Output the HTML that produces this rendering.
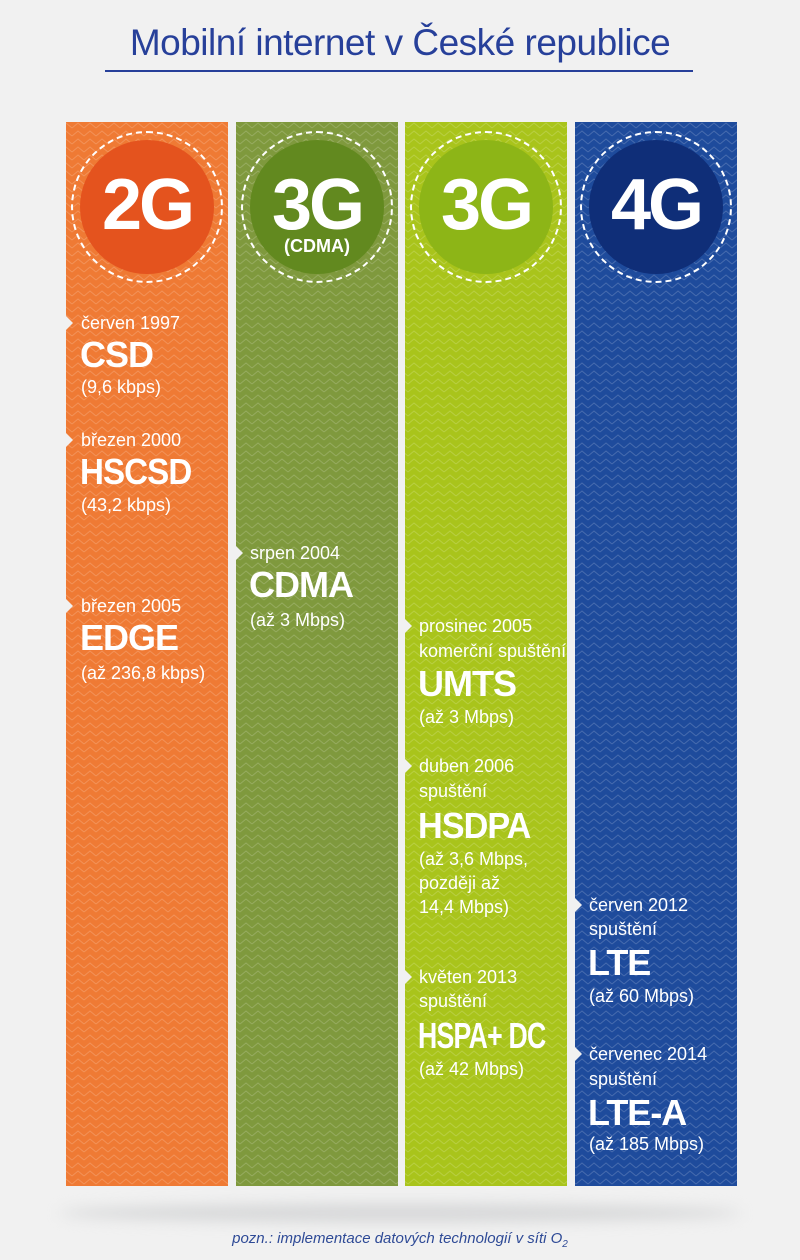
<!DOCTYPE html>
<html><head><meta charset="utf-8"><style>
body{margin:0;width:800px;height:1260px;background:#f1f1f1;position:relative;overflow:hidden;font-family:"Liberation Sans",sans-serif}
.t{position:absolute;left:0;width:800px;text-align:center;top:22px;font-family:"Liberation Sans",sans-serif;font-size:37px;color:#27409a;letter-spacing:-0.5px}
.ul{position:absolute;left:105px;width:588px;top:70px;height:2px;background:#27409a}
.col{position:absolute;top:122px;height:1064px;width:162px}
.circ{position:absolute;width:134px;height:134px;border-radius:50%;left:14px;top:18px}
.ring{position:absolute;border-radius:50%;left:5px;top:9px;border:2px dashed #fff;box-sizing:border-box;width:152px;height:152px}
.g{position:absolute;left:0;width:162px;text-align:center;top:48px;font-family:"Liberation Sans",sans-serif;font-weight:bold;font-size:72px;color:#fff;line-height:70px;letter-spacing:-3px}
.s{position:absolute;color:#fff;font-size:18px;line-height:22px;white-space:nowrap}
.b{position:absolute;color:#fff;font-size:36px;font-weight:bold;line-height:38px;white-space:nowrap;letter-spacing:-1px}
.n{position:absolute;width:0;height:0;border-top:7px solid transparent;border-bottom:7px solid transparent;border-left:7px solid #f1f1f1}
</style></head><body>
<svg width="0" height="0" style="position:absolute"><defs><pattern id="zz" width="12" height="8" patternUnits="userSpaceOnUse"><path d="M0 6 L6 1 L12 6" fill="none" stroke="#fff" stroke-opacity="0.18" stroke-width="1"/></pattern></defs></svg>
<div class="t">Mobilní internet v České republice</div>
<div class="ul"></div>

<div class="col" style="left:66px;background:#ef7a34"></div>
<div class="col" style="left:236px;background:#7f993d"></div>
<div class="col" style="left:405px;background:#a9c41b"></div>
<div class="col" style="left:575px;background:#1e4b9c"></div>
<svg style="position:absolute;left:0;top:122px" width="800" height="1064"><rect x="66" width="162" height="1064" fill="url(#zz)"/><rect x="236" width="162" height="1064" fill="url(#zz)"/><rect x="405" width="162" height="1064" fill="url(#zz)"/><rect x="575" width="162" height="1064" fill="url(#zz)"/></svg>

<div class="col" style="left:66px"><div class="circ" style="background:#e4531e"></div><div class="ring"></div><div class="g">2G</div></div>
<div class="col" style="left:236px"><div class="circ" style="background:#62891f"></div><div class="ring"></div><div class="g">3G</div><div style="position:absolute;left:0;width:162px;text-align:center;top:114px;color:#fff;font-family:'Liberation Sans',sans-serif;font-weight:bold;font-size:18px">(CDMA)</div></div>
<div class="col" style="left:405px"><div class="circ" style="background:#8db517"></div><div class="ring"></div><div class="g">3G</div></div>
<div class="col" style="left:575px"><div class="circ" style="background:#0f2e78"></div><div class="ring"></div><div class="g">4G</div></div>

<div class="n" style="left:66px;top:316px"></div><div class="n" style="left:66px;top:433px"></div><div class="n" style="left:66px;top:599px"></div>
<div class="n" style="left:236px;top:546px"></div>
<div class="n" style="left:405px;top:619px"></div><div class="n" style="left:405px;top:759px"></div><div class="n" style="left:405px;top:970px"></div>
<div class="n" style="left:575px;top:898px"></div><div class="n" style="left:575px;top:1047px"></div>

<div class="s" style="left:81px;top:312px">červen 1997</div>
<div class="b" style="left:80px;top:336px">CSD</div>
<div class="s" style="left:81px;top:376px">(9,6 kbps)</div>
<div class="s" style="left:81px;top:429px">březen 2000</div>
<div class="b" style="left:80px;top:453px;transform:scaleX(0.92);transform-origin:left">HSCSD</div>
<div class="s" style="left:81px;top:494px">(43,2 kbps)</div>
<div class="s" style="left:81px;top:595px">březen 2005</div>
<div class="b" style="left:80px;top:619px">EDGE</div>
<div class="s" style="left:81px;top:662px">(až 236,8 kbps)</div>

<div class="s" style="left:250px;top:542px">srpen 2004</div>
<div class="b" style="left:249px;top:566px">CDMA</div>
<div class="s" style="left:250px;top:609px">(až 3 Mbps)</div>

<div class="s" style="left:419px;top:615px">prosinec 2005</div>
<div class="s" style="left:419px;top:640px">komerční spuštění</div>
<div class="b" style="left:418px;top:665px">UMTS</div>
<div class="s" style="left:419px;top:706px">(až 3 Mbps)</div>
<div class="s" style="left:419px;top:755px">duben 2006</div>
<div class="s" style="left:419px;top:780px">spuštění</div>
<div class="b" style="left:418px;top:807px;transform:scaleX(0.95);transform-origin:left">HSDPA</div>
<div class="s" style="left:419px;top:848px">(až 3,6 Mbps,</div>
<div class="s" style="left:419px;top:872px">později až</div>
<div class="s" style="left:419px;top:896px">14,4 Mbps)</div>
<div class="s" style="left:419px;top:966px">květen 2013</div>
<div class="s" style="left:419px;top:990px">spuštění</div>
<div class="b" style="left:418px;top:1017px;transform:scaleX(0.74);transform-origin:left">HSPA+ DC</div>
<div class="s" style="left:419px;top:1058px">(až 42 Mbps)</div>

<div class="s" style="left:589px;top:894px">červen 2012</div>
<div class="s" style="left:589px;top:918px">spuštění</div>
<div class="b" style="left:588px;top:944px">LTE</div>
<div class="s" style="left:589px;top:985px">(až 60 Mbps)</div>
<div class="s" style="left:589px;top:1043px">červenec 2014</div>
<div class="s" style="left:589px;top:1068px">spuštění</div>
<div class="b" style="left:588px;top:1094px">LTE-A</div>
<div class="s" style="left:589px;top:1133px">(až 185 Mbps)</div>

<div style="position:absolute;left:60px;width:680px;top:1204px;height:18px;border-radius:50%;background:#d6d7d8;filter:blur(7px)"></div>
<div style="position:absolute;left:0;width:800px;text-align:center;top:1230px;font-size:15px;font-style:italic;color:#2e4a96">pozn.: implementace datových technologií v síti O<sub style="font-size:10px">2</sub></div>
</body></html>
